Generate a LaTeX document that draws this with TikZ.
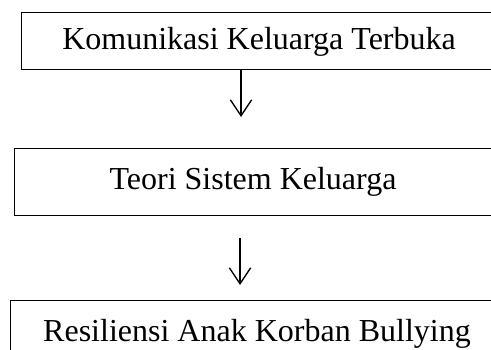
\documentclass[tikz,border=0pt]{standalone}
\usepackage{fontspec}
\setmainfont{Liberation Serif}
\usetikzlibrary{positioning,arrows.meta}

\begin{document}
\begin{tikzpicture}[
    x=0.75pt, y=-0.75pt,
    stage/.style={rectangle, draw, line width=0.75pt, inner sep=0pt, font=\fontsize{24}{28}\selectfont},
    flow/.style={-{Straight Barb[length=12pt,width=16pt]}, line width=1pt}
]
\path[use as bounding box, clip] (0,0) rectangle (491,349);

\node[stage, minimum width=357pt, minimum height=42.75pt] (komunikasi) at (259,41.5) {Komunikasi Keluarga Terbuka};
\node[stage, minimum width=358.5pt, minimum height=50.25pt] (teori) at (253,181.5) {Teori Sistem Keluarga};
\node[stage, minimum width=370.5pt, minimum height=50.25pt] (resiliensi) at (257,334) {Resiliensi Anak Korban Bullying};

% free ends of the arrows
\coordinate (a1s) at (241,70);
\coordinate (a1e) at (241,117);
\coordinate (a2s) at (240,238);
\coordinate (a2e) at (240,285);

\draw[flow] (a1s) -- (a1e);
\draw[flow] (a2s) -- (a2e);
\end{tikzpicture}
\end{document}
